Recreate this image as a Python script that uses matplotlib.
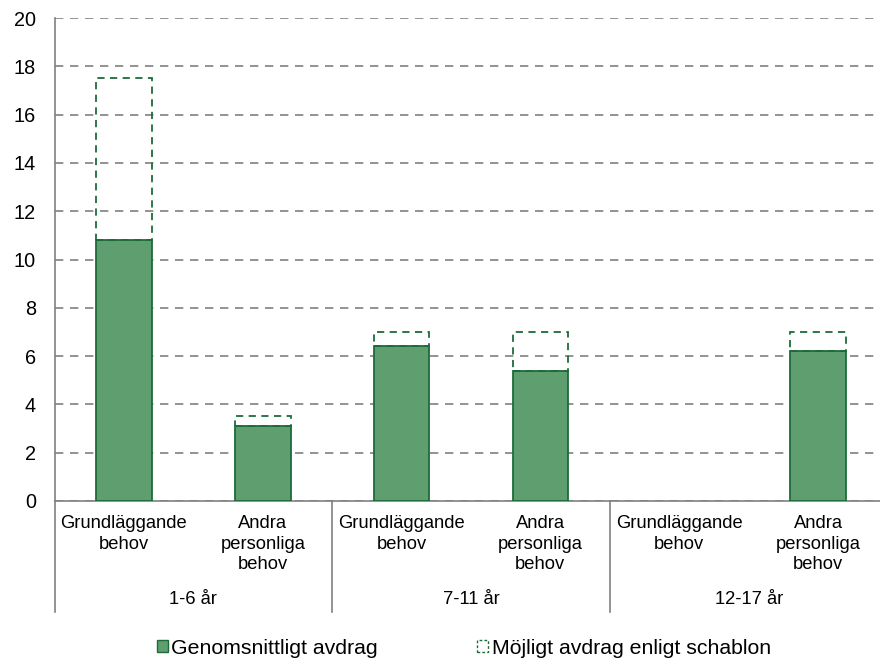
import matplotlib
matplotlib.use("Agg")
import matplotlib.pyplot as plt
from matplotlib.patches import Patch
import numpy as np

plt.rcParams['font.family'] = ['Liberation Sans', 'DejaVu Sans']

categories = ["Grundläggande\nbehov", "Andra\npersonliga\nbehov",
              "Grundläggande\nbehov", "Andra\npersonliga\nbehov",
              "Grundläggande\nbehov", "Andra\npersonliga\nbehov"]
groups = ["1-6 år", "7-11 år", "12-17 år"]
actual = [10.8, 3.1, 6.4, 5.4, None, 6.2]
possible = [17.5, 3.5, 7.0, 7.0, None, 7.0]
series_names = ["Genomsnittligt avdrag", "Möjligt avdrag enligt schablon"]

fill = "#5f9e6e"
edge = "#1d6b3a"
grey = "#808080"

fig = plt.figure(figsize=(8.8, 6.62), dpi=100)
ax = fig.add_axes([54.5/880, 161/662, 833/880, 483/662])

idx = [i for i, v in enumerate(actual) if v is not None]
xs = np.array(idx, dtype=float)
act = np.array([actual[i] for i in idx])
pos = np.array([possible[i] for i in idx])
w = 0.40
ax.bar(xs, act, width=w, color=fill, edgecolor=edge, linewidth=1.3, zorder=3)
ax.bar(xs, pos - act, bottom=act, width=w, facecolor="none",
       edgecolor=edge, linewidth=1.3, linestyle=(0, (4, 3)), zorder=3)

ax.set_xlim(-0.5, len(categories) - 0.5)
ax.set_ylim(0, 20)
ax.set_yticks(np.arange(0, 21, 2))
ax.yaxis.grid(True, color=grey, linestyle=(0, (5, 4)), linewidth=1.2)
ax.set_axisbelow(True)
ax.tick_params(axis='y', length=0, labelsize=14.3, pad=13.5)
ax.set_xticks([])
for s in ["top", "right"]:
    ax.spines[s].set_visible(False)
for s in ["left", "bottom"]:
    ax.spines[s].set_color(grey)
    ax.spines[s].set_linewidth(1.2)

tr = ax.get_xaxis_transform()
for i, c in enumerate(categories):
    ax.text(i, -14/483, c, transform=tr, ha="center", va="top", fontsize=13.2,
            linespacing=1.27)
for g, name in enumerate(groups):
    ax.text(2 * g + 0.5, -99/483, name, transform=tr, ha="center", va="center", fontsize=13.2)
for b in [-0.5, 1.5, 3.5, 5.5]:
    ax.plot([b, b], [0, -111/483], transform=tr, color=grey, linewidth=1.2, clip_on=False)

handles = [Patch(facecolor=fill, edgecolor=edge, linewidth=1.0),
           Patch(facecolor="none", edgecolor=edge, linewidth=1.0, linestyle=(0, (2, 1.5)))]
fig.legend(handles, series_names, loc="center", bbox_to_anchor=(0.527, 14/662),
           ncol=2, frameon=False, fontsize=15.3, handlelength=0.52, handleheight=0.52,
           handletextpad=0.15, columnspacing=4.7, borderpad=0)

fig.savefig("out.png", dpi=100)
